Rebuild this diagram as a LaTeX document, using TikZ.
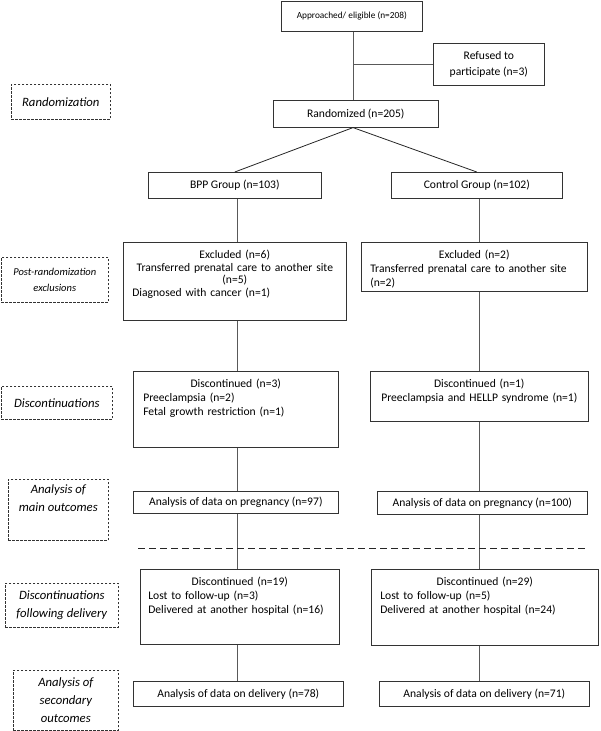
\documentclass[tikz,border=0pt]{standalone}
\usepackage{fontspec}
\setmainfont{Carlito}
\usetikzlibrary{positioning}

\begin{document}
\begin{tikzpicture}[x=1pt, y=-1pt,
            font=\fontsize{11.6}{14}\selectfont,
            box/.style={draw=black!80, line width=0.6pt, anchor=north west, inner sep=0pt},
            stage/.style={draw=black!80, line width=0.6pt, dash pattern=on 2.5pt off 1.5pt,
                anchor=north west, inner sep=0pt, align=center, font=\fontsize{12.7}{18}\selectfont\itshape},
            lines/.style={anchor=north, text width=#1, inner sep=0pt},
            link/.style={draw=black!65, line width=0.9pt},
            split/.style={draw=black!85, line width=1pt, dash pattern=on 7pt off 4pt}]
            \useasboundingbox (0,0) rectangle (600,731);
            \coordinate (tx) at (353,0);
            \coordinate (lx) at (237,0);
            \coordinate (rx) at (479,0);

            \node[box, minimum width=141pt, minimum height=30pt, font=\fontsize{9.3}{11}\selectfont] (appr) at (281,1) {Approached/ eligible (n=208)};
            \node[box, minimum width=111pt, minimum height=42pt, align=center, font=\fontsize{11.6}{16.5}\selectfont] (refused) at (433,43) {Refused to\\participate (n=3)};
            \node[box, minimum width=165pt, minimum height=27pt] (rand) at (273,100) {Randomized (n=205)};
            \node[box, minimum width=173pt, minimum height=26pt] (bpp) at (148,172) {BPP Group (n=103)};
            \node[box, minimum width=171pt, minimum height=26pt] (ctrl) at (391,172) {Control Group (n=102)};

            \node[box, minimum width=223pt, minimum height=78pt] (exB) at (123,242) {};
            \node[lines=205pt, below=8pt of exB.north, font=\fontsize{11.6}{12.5}\selectfont] (exBtxt) {{\centering Excluded (n=6)\\Transferred prenatal care to another site\\(n=5)\par}Diagnosed with cancer (n=1)};
            \node[box, minimum width=226pt, minimum height=49pt] (exC) at (361,242) {};
            \node[lines=208pt, below=8pt of exC.north] (exCtxt) {{\centering Excluded (n=2)\par}Transferred prenatal care to another site\\(n=2)};

            \node[box, minimum width=205pt, minimum height=76pt] (dsB) at (133,371) {};
            \node[lines=185pt, below=8pt of dsB.north] (dsBtxt) {{\centering Discontinued (n=3)\par}Preeclampsia (n=2)\\Fetal growth restriction (n=1)};
            \node[box, minimum width=218pt, minimum height=50pt] (dsC) at (370,371) {};
            \node[lines=210pt, below=8pt of dsC.north, align=center] (dsCtxt) {Discontinued (n=1)\\Preeclampsia and HELLP syndrome (n=1)};

            \node[box, minimum width=205pt, minimum height=22pt] (anB) at (133,491) {Analysis of data on pregnancy (n=97)};
            \node[box, minimum width=210pt, minimum height=23pt] (anC) at (377,491) {Analysis of data on pregnancy (n=100)};

            \node[box, minimum width=199pt, minimum height=75pt] (fuB) at (140,569) {};
            \node[lines=183pt, below=8pt of fuB.north] (fuBtxt) {{\centering Discontinued (n=19)\par}Lost to follow-up (n=3)\\Delivered at another hospital (n=16)};
            \node[box, minimum width=227pt, minimum height=76pt] (fuC) at (371,569) {};
            \node[lines=209pt, below=8pt of fuC.north] (fuCtxt) {{\centering Discontinued (n=29)\par}Lost to follow-up (n=5)\\Delivered at another hospital (n=24)};

            \node[box, minimum width=210pt, minimum height=25pt] (dlB) at (133,681) {Analysis of data on delivery (n=78)};
            \node[box, minimum width=210pt, minimum height=25pt] (dlC) at (379,681) {Analysis of data on delivery (n=71)};

            \node[stage, minimum width=99pt, minimum height=35pt] (lrand) at (11,84) {Randomization};
            \node[stage, minimum width=107pt, minimum height=45pt, font=\fontsize{10.5}{16}\selectfont\itshape] (lpost) at (1,257) {Post-randomization\\exclusions};
            \node[stage, minimum width=111pt, minimum height=33pt] (ldisc) at (1,386) {Discontinuations};
            \node[stage, minimum width=100pt, minimum height=61pt] (lmain) at (8,479) {Analysis of\\main outcomes\\[6pt]};
            \node[stage, minimum width=113pt, minimum height=44pt] (lfu) at (5,583) {Discontinuations\\following delivery};
            \node[stage, minimum width=105pt, minimum height=60pt] (lsec) at (13,670) {Analysis of\\secondary\\outcomes};

            \draw[link] (appr.south -| tx) -- (rand.north -| tx);
            \draw[link] (refused.west -| tx) -- (refused.west);
            \draw[black!85, line width=0.8pt] (bpp.north) -- (rand.south -| tx) -- (ctrl.north);
            \foreach \a/\b in {bpp/exB, exB/dsB, dsB/anB, anB/fuB, fuB/dlB}
                \draw[link] (\a.south -| lx) -- (\b.north -| lx);
            \foreach \a/\b in {ctrl/exC, exC/dsC, dsC/anC, anC/fuC, fuC/dlC}
                \draw[link] (\a.south -| rx) -- (\b.north -| rx);

            \coordinate (sl) at (138,548);
            \coordinate (sr) at (585,548);
            \draw[split] (sl) -- (sr);
        \end{tikzpicture}
\end{document}
